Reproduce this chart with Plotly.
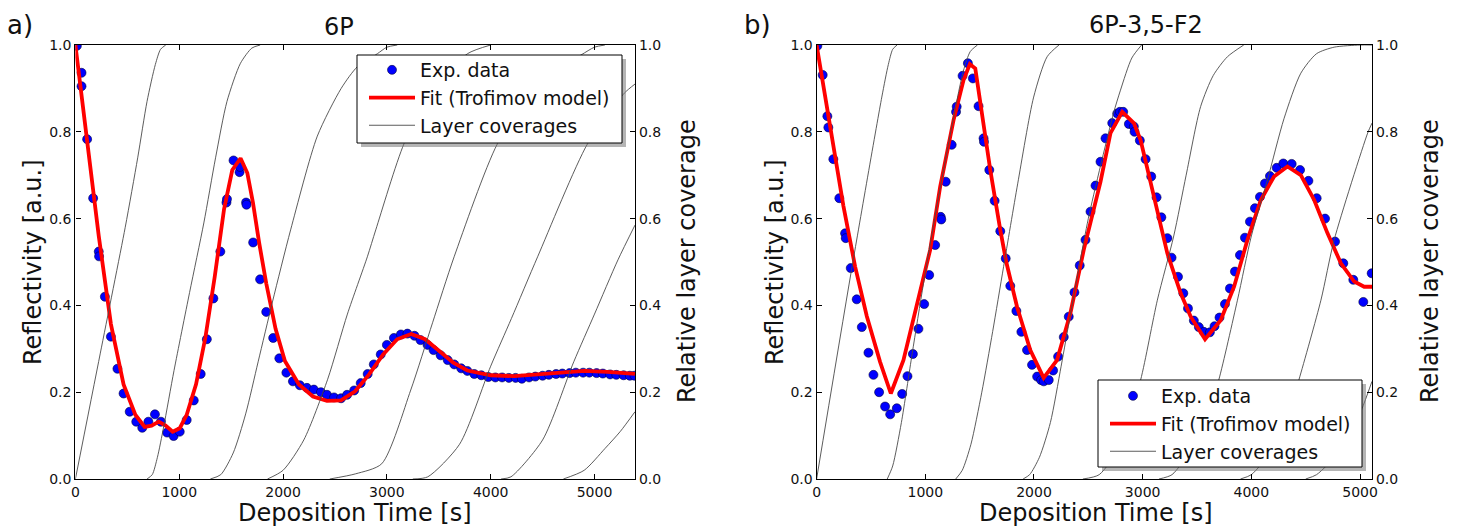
import plotly.graph_objects as go

W, H = 1459, 528

# ---------------- data: panel a) 6P ----------------
a_exp = [(14, 0.998), (59, 0.936), (59, 0.905), (113, 0.783), (171, 0.647), (225, 0.524), (228, 0.513),
         (284, 0.42), (342, 0.328), (405, 0.254), (464, 0.197), (523, 0.155), (586, 0.132), (644, 0.118),
         (703, 0.132), (766, 0.149), (824, 0.132), (883, 0.107), (946, 0.099), (1005, 0.109), (1072, 0.136),
         (1140, 0.181), (1207, 0.242), (1266, 0.322), (1329, 0.416), (1396, 0.524), (1455, 0.637), (1460, 0.645),
         (1523, 0.734), (1581, 0.707), (1585, 0.719), (1644, 0.637), (1648, 0.632), (1712, 0.545), (1779, 0.46),
         (1838, 0.385), (1905, 0.325), (1964, 0.278), (2032, 0.245), (2095, 0.225), (2162, 0.216), (2230, 0.21),
         (2297, 0.206), (2365, 0.2), (2423, 0.194), (2491, 0.188), (2559, 0.186), (2617, 0.194), (2685, 0.204),
         (2748, 0.221), (2815, 0.242), (2874, 0.264), (2941, 0.287), (3000, 0.309), (3068, 0.325), (3135, 0.333),
         (3198, 0.335), (3266, 0.33), (3324, 0.32), (3392, 0.309), (3450, 0.297), (3518, 0.285), (3586, 0.274),
         (3649, 0.264), (3716, 0.255), (3775, 0.249), (3842, 0.242), (3910, 0.239), (3977, 0.235), (4045, 0.234),
         (4110, 0.234), (4175, 0.233), (4240, 0.233), (4300, 0.231), (4370, 0.234), (4430, 0.236), (4500, 0.238),
         (4560, 0.24), (4630, 0.242), (4690, 0.243), (4760, 0.244), (4820, 0.245), (4890, 0.245), (4950, 0.245),
         (5020, 0.244), (5080, 0.243), (5150, 0.241), (5210, 0.24), (5280, 0.239), (5340, 0.238), (5385, 0.238)]

a_fit = [(0, 1.0), (100, 0.80), (225, 0.56), (342, 0.357), (464, 0.218), (577, 0.148), (667, 0.12), (734, 0.123),
         (802, 0.132), (869, 0.123), (937, 0.109), (1005, 0.117), (1072, 0.148), (1162, 0.218), (1252, 0.326),
         (1342, 0.466), (1432, 0.622), (1511, 0.712), (1591, 0.739), (1656, 0.705), (1710, 0.637), (1770, 0.544),
         (1838, 0.451), (1928, 0.346), (2018, 0.272), (2153, 0.218), (2288, 0.19), (2423, 0.18), (2559, 0.181),
         (2694, 0.202), (2829, 0.241), (2964, 0.287), (3099, 0.322), (3234, 0.334), (3369, 0.322), (3505, 0.295),
         (3640, 0.268), (3775, 0.25), (4000, 0.239), (4225, 0.237), (4450, 0.241), (4676, 0.246), (4901, 0.249),
         (5126, 0.247), (5390, 0.242)]

a_layers = [
    [(0, 0.0), (240, 0.29), (480, 0.58), (600, 0.74), (690, 0.87), (770, 0.955), (820, 0.99), (870, 1.0)],
    [(690, 0.0), (740, 0.01), (790, 0.05), (850, 0.12), (950, 0.25), (1100, 0.43), (1237, 0.59), (1350, 0.74),
     (1460, 0.87), (1590, 0.958), (1700, 0.993), (1780, 1.0)],
    [(1300, 0.0), (1400, 0.01), (1520, 0.06), (1640, 0.15), (1760, 0.27), (1900, 0.41), (2073, 0.574),
     (2330, 0.79), (2560, 0.9), (2716, 0.95), (2909, 0.98), (3000, 0.995), (3100, 1.0)],
    [(1850, 0.0), (2000, 0.02), (2200, 0.09), (2430, 0.23), (2620, 0.38), (2812, 0.512), (2893, 0.574),
     (3166, 0.773), (3450, 0.9), (3777, 0.98), (4000, 1.0)],
    [(2450, 0.0), (2700, 0.012), (2950, 0.035), (3230, 0.205), (3440, 0.36), (3648, 0.512), (4066, 0.773),
     (4500, 0.925), (4870, 0.977), (5000, 0.995), (5100, 1.0)],
    [(3250, 0.0), (3394, 0.005), (3700, 0.08), (4000, 0.26), (4200, 0.37), (4452, 0.512), (4934, 0.773),
     (5287, 0.889), (5390, 0.91)],
    [(4100, 0.0), (4195, 0.005), (4500, 0.09), (4800, 0.27), (5000, 0.38), (5226, 0.505), (5390, 0.585)],
    [(4700, 0.0), (4900, 0.02), (5100, 0.07), (5250, 0.11), (5390, 0.155)],
]

# ---------------- data: panel b) 6P-3,5-F2 ----------------
b_exp = [(7, 0.998), (56, 0.931), (99, 0.836), (108, 0.81), (154, 0.737), (209, 0.647), (262, 0.566), (268, 0.555),
         (314, 0.486), (369, 0.414), (416, 0.35), (477, 0.291), (523, 0.24), (575, 0.2), (630, 0.167), (677, 0.149),
         (738, 0.163), (787, 0.196), (836, 0.237), (886, 0.288), (937, 0.346), (990, 0.403), (1036, 0.47),
         (1091, 0.539), (1142, 0.604), (1147, 0.598), (1188, 0.685), (1243, 0.77), (1283, 0.846), (1289, 0.858),
         (1343, 0.929), (1392, 0.958), (1438, 0.923), (1490, 0.859), (1536, 0.785), (1540, 0.777), (1589, 0.712),
         (1638, 0.641), (1690, 0.571), (1740, 0.508), (1782, 0.445), (1838, 0.387), (1884, 0.339), (1936, 0.297),
         (1982, 0.263), (2029, 0.236), (2065, 0.228), (2090, 0.225), (2136, 0.228), (2176, 0.25), (2222, 0.282),
         (2274, 0.327), (2320, 0.374), (2372, 0.43), (2421, 0.492), (2474, 0.551), (2520, 0.616), (2566, 0.676),
         (2612, 0.731), (2658, 0.785), (2720, 0.82), (2766, 0.842), (2790, 0.846), (2821, 0.846), (2873, 0.818),
         (2919, 0.812), (2925, 0.80), (2974, 0.78), (3027, 0.737), (3079, 0.697), (3128, 0.649), (3172, 0.603),
         (3227, 0.555), (3266, 0.51), (3325, 0.466), (3374, 0.428), (3417, 0.393), (3471, 0.365), (3517, 0.35),
         (3563, 0.339), (3618, 0.338), (3661, 0.352), (3707, 0.372), (3757, 0.403), (3803, 0.439), (3849, 0.478),
         (3895, 0.516), (3941, 0.556), (3987, 0.593), (4033, 0.624), (4079, 0.650), (4125, 0.681), (4171, 0.698),
         (4233, 0.717), (4294, 0.727), (4371, 0.726), (4448, 0.712), (4525, 0.687), (4601, 0.647), (4678, 0.600),
         (4770, 0.547), (4846, 0.497), (4938, 0.459), (5030, 0.408), (5107, 0.474)]

b_fit = [(0, 1.0), (123, 0.81), (246, 0.63), (354, 0.49), (462, 0.375), (584, 0.27), (683, 0.197), (799, 0.274),
         (922, 0.397), (1045, 0.528), (1137, 0.674), (1260, 0.827), (1352, 0.919), (1410, 0.956), (1460, 0.946),
         (1522, 0.843), (1598, 0.712), (1690, 0.574), (1745, 0.50), (1844, 0.397), (1966, 0.297), (2089, 0.233),
         (2212, 0.274), (2335, 0.382), (2458, 0.528), (2612, 0.685), (2704, 0.797), (2812, 0.846), (2919, 0.82),
         (2981, 0.781), (3103, 0.647), (3227, 0.52), (3350, 0.428), (3442, 0.374), (3574, 0.322), (3718, 0.366),
         (3841, 0.443), (3964, 0.551), (4087, 0.643), (4209, 0.697), (4332, 0.72), (4455, 0.70), (4578, 0.643),
         (4701, 0.566), (4824, 0.497), (4946, 0.455), (5038, 0.443), (5110, 0.443)]

b_layers = [
    [(0, 0.0), (320, 0.48), (600, 0.88), (660, 0.955), (700, 0.99), (740, 1.0)],
    [(650, 0.0), (700, 0.03), (780, 0.13), (880, 0.29), (983, 0.45), (1100, 0.62), (1250, 0.82), (1350, 0.94),
     (1414, 0.985), (1480, 1.0)],
    [(1280, 0.0), (1340, 0.02), (1420, 0.08), (1520, 0.2), (1620, 0.34), (1721, 0.49), (1850, 0.68), (1997, 0.88),
     (2121, 0.973), (2230, 1.0)],
    [(1900, 0.0), (1960, 0.01), (2050, 0.05), (2151, 0.13), (2250, 0.26), (2336, 0.38), (2500, 0.6), (2732, 0.843),
     (2796, 0.896), (2900, 0.97), (2990, 1.0)],
    [(2450, 0.0), (2600, 0.01), (2800, 0.08), (2981, 0.228), (3135, 0.412), (3286, 0.56), (3400, 0.7),
     (3533, 0.858), (3650, 0.93), (3780, 0.973), (3930, 1.0)],
    [(3150, 0.0), (3270, 0.01), (3450, 0.07), (3600, 0.15), (3700, 0.228), (3872, 0.412), (4000, 0.56),
     (4148, 0.689), (4300, 0.83), (4455, 0.935), (4600, 0.98), (4762, 0.995), (5000, 1.0), (5110, 1.0)],
    [(3900, 0.0), (4000, 0.01), (4200, 0.07), (4330, 0.14), (4437, 0.228), (4640, 0.412), (4762, 0.551),
     (5070, 0.797), (5110, 0.82)],
    [(4500, 0.0), (4600, 0.01), (4800, 0.06), (4950, 0.12), (5038, 0.175), (5110, 0.225)],
]

x_ticks = [0, 1000, 2000, 3000, 4000, 5000]
y_ticks = [0.0, 0.2, 0.4, 0.6, 0.8, 1.0]
panel_titles = ["6P", "6P-3,5-F2"]
panel_labels = ["a)", "b)"]
x_ranges = [5390, 5110]

FONT = "DejaVu Sans"


def px(x):
    return x / W


def py(y):
    return 1 - y / H


fig = go.Figure()

panels = [
    dict(exp=a_exp, fit=a_fit, layers=a_layers, xa="x", ya="y", yc="y2", leg="legend"),
    dict(exp=b_exp, fit=b_fit, layers=b_layers, xa="x2", ya="y3", yc="y4", leg="legend2"),
]

for p in panels:
    for i, curve in enumerate(p["layers"]):
        fig.add_trace(go.Scatter(
            x=[c[0] for c in curve], y=[c[1] for c in curve], mode="lines",
            line=dict(color="#4a4a4a", width=0.9, shape="spline", smoothing=0.7),
            xaxis=p["xa"], yaxis=p["yc"], name="Layer coverages",
            legendgroup=p["leg"] + "cov", showlegend=(i == 0), legend=p["leg"], legendrank=3,
            hoverinfo="skip"))
    fig.add_trace(go.Scatter(
        x=[c[0] for c in p["exp"]], y=[c[1] for c in p["exp"]], mode="markers",
        marker=dict(color="#0000ff", size=9, line=dict(color="#000040", width=0.6)),
        xaxis=p["xa"], yaxis=p["ya"], name="Exp. data", legend=p["leg"], legendrank=1))
    fig.add_trace(go.Scatter(
        x=[c[0] for c in p["fit"]], y=[c[1] for c in p["fit"]], mode="lines",
        line=dict(color="#ff0000", width=3.8),
        xaxis=p["xa"], yaxis=p["ya"], name="Fit (Trofimov model)", legend=p["leg"], legendrank=2))

ydom = [py(479), py(45)]
xdoms = [[px(75.4), px(635)], [px(816.6), px(1372)]]

tickfont = dict(family=FONT, size=14, color="#111")
common_x = dict(showgrid=False, zeroline=False, showline=True, linecolor="black", linewidth=1.3,
                mirror="ticks", ticks="inside", ticklen=5, tickcolor="black", tickwidth=1,
                tickvals=x_ticks, tickfont=tickfont, automargin=False)
common_y = dict(showgrid=False, zeroline=False, showline=True, linecolor="black", linewidth=1.3,
                ticks="inside", ticklen=5, tickcolor="black", tickwidth=1, range=[0, 1],
                tickvals=y_ticks, tickformat=".1f", tickfont=tickfont, domain=ydom, automargin=False)

fig.update_layout(
    xaxis=dict(domain=xdoms[0], range=[0, x_ranges[0]], anchor="y", **common_x),
    yaxis=dict(anchor="x", side="left", **common_y),
    yaxis2=dict(anchor="x", overlaying="y", side="right", **common_y),
    xaxis2=dict(domain=xdoms[1], range=[0, x_ranges[1]], anchor="y3", **common_x),
    yaxis3=dict(anchor="x2", side="left", **common_y),
    yaxis4=dict(anchor="x2", overlaying="y3", side="right", **common_y),
)

legfont = dict(family=FONT, size=19, color="#111")
fig.update_layout(
    legend=dict(x=px(364), y=py(51), xanchor="left", yanchor="top", bgcolor="rgba(0,0,0,0)",
                borderwidth=0, font=legfont, itemwidth=46, tracegroupgap=0),
    legend2=dict(x=px(1105), y=py(377), xanchor="left", yanchor="top", bgcolor="rgba(0,0,0,0)",
                 borderwidth=0, font=legfont, itemwidth=46, tracegroupgap=0),
)

# legend frames with drop shadow
shapes = []
for (x0, y0, x1, y1) in [(357, 55, 622, 143), (1098, 380, 1362, 467)]:
    shapes.append(dict(type="rect", xref="paper", yref="paper", x0=px(x0 + 4), x1=px(x1 + 4),
                       y0=py(y1 + 4), y1=py(y0 + 4), fillcolor="rgba(120,120,120,0.55)",
                       line=dict(width=0), layer="above"))
    shapes.append(dict(type="rect", xref="paper", yref="paper", x0=px(x0), x1=px(x1),
                       y0=py(y1), y1=py(y0), fillcolor="white",
                       line=dict(color="black", width=1), layer="above"))

titlefont = dict(family=FONT, size=24, color="#111")
ann = []
ann.append(dict(text=panel_titles[0], x=px(339), y=py(27), showarrow=False, xref="paper", yref="paper",
                font=dict(family=FONT, size=24, color="#111"), xanchor="center", yanchor="middle"))
ann.append(dict(text=panel_titles[1], x=px(1146), y=py(25), showarrow=False, xref="paper", yref="paper",
                font=dict(family=FONT, size=24, color="#111"), xanchor="center", yanchor="middle"))
ann.append(dict(text=panel_labels[0], x=px(5), y=py(25), showarrow=False, xref="paper", yref="paper",
                font=dict(family=FONT, size=26, color="#111"), xanchor="left", yanchor="middle"))
ann.append(dict(text=panel_labels[1], x=px(742), y=py(25), showarrow=False, xref="paper", yref="paper",
                font=dict(family=FONT, size=26, color="#111"), xanchor="left", yanchor="middle"))
for cx in [355, 1096]:
    ann.append(dict(text="Deposition Time [s]", x=px(cx), y=py(513), showarrow=False, xref="paper",
                    yref="paper", font=titlefont, xanchor="center", yanchor="middle"))
for cx in [33, 775]:
    ann.append(dict(text="Reflectivity [a.u.]", x=px(cx), y=py(262), showarrow=False, xref="paper",
                    yref="paper", font=titlefont, textangle=-90, xanchor="center", yanchor="middle"))
for cx in [687, 1430]:
    ann.append(dict(text="Relative layer coverage", x=px(cx), y=py(261), showarrow=False, xref="paper",
                    yref="paper", font=titlefont, textangle=-90, xanchor="center", yanchor="middle"))

fig.update_layout(
    width=W, height=H, margin=dict(l=0, r=0, t=0, b=0, autoexpand=False),
    paper_bgcolor="white", plot_bgcolor="white",
    shapes=shapes, annotations=ann, font=dict(family=FONT),
)

fig.write_html("out.html", config={"displayModeBar": False},
               post_script="document.body.style.margin='0px';")
